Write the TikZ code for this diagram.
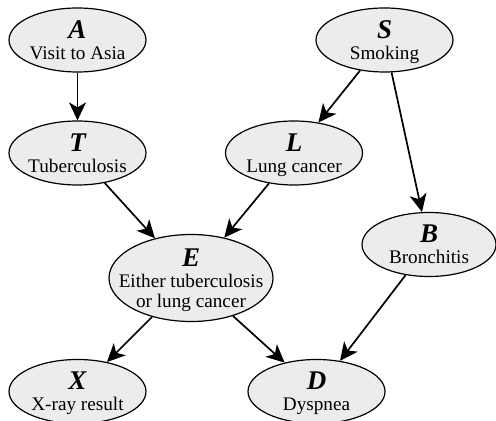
\documentclass[tikz,border=0pt]{standalone}
\usepackage{fontspec}
\setmainfont{Liberation Serif}
\usetikzlibrary{shapes.geometric,arrows.meta,positioning}

\newcommand{\varname}[1]{{\fontsize{13.5}{13.5}\selectfont\bfseries\itshape #1}}

\begin{document}
\begin{tikzpicture}[
    x=0.5pt, y=-0.5pt,
    var/.style={ellipse, draw, line width=0.6pt, fill=gray!15, inner sep=-20pt,
        minimum width=68.5pt, minimum height=32pt, align=center, text depth=0pt,
        font=\fontsize{9.6}{10}\selectfont},
    arrow/.style={-{Stealth[length=9pt,width=8.5pt,inset=2.5pt]}, line width=0.85pt}
]
\useasboundingbox (0,0) rectangle (496,421);

% Top row
\node[var] (A) at (77.5, 40) {\varname{A}\\[0.5pt]Visit to Asia};
\node[var] (S) at (384.5, 40) {\varname{S}\\[0.5pt]Smoking};

% Second row
\node[var] (T) at (77.5, 153) {\varname{T}\\[0.5pt]Tuberculosis};
\node[var] (L) at (294, 153) {\varname{L}\\[0.5pt]Lung cancer};

% Middle
\node[var, minimum width=82pt, minimum height=43.5pt] (E) at (191, 278) {\varname{E}\\[0.5pt]Either tuberculosis\\or lung cancer};
\node[var, minimum width=67pt] (B) at (429, 244.5) {\varname{B}\\[0.5pt]Bronchitis};

% Bottom row
\node[var] (X) at (77.5, 391.5) {\varname{X}\\[0.5pt]X-ray result};
\node[var] (D) at (316.5, 391.5) {\varname{D}\\[0.5pt]Dyspnea};

% Edges
\draw[arrow] (A) -- (T);
\draw[arrow] (S) -- (L);
\draw[arrow] (S) -- (B);
\draw[arrow] (T) -- (E);
\draw[arrow] (L) -- (E);
\draw[arrow] (E) -- (X);
\draw[arrow] (E) -- (D);
\draw[arrow] (B) -- (D);

\end{tikzpicture}
\end{document}
